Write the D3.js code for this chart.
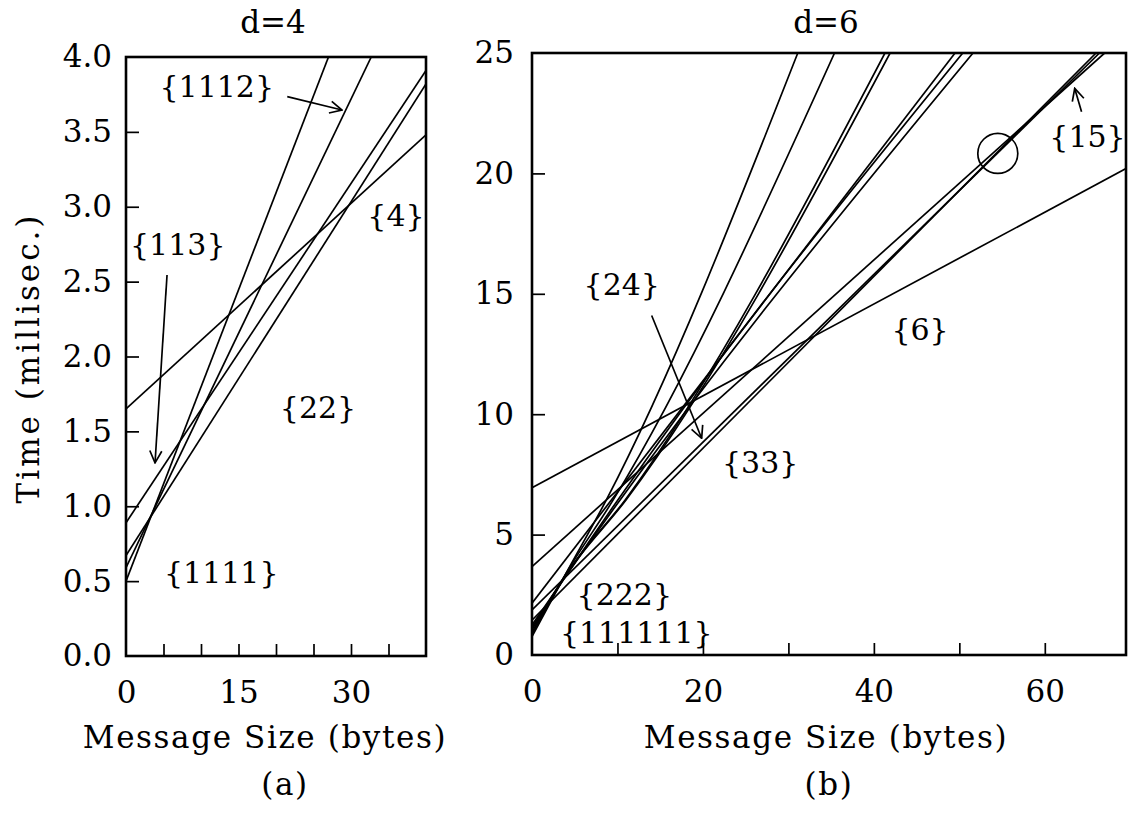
<!DOCTYPE html>
<html>
<head>
<meta charset="UTF-8">
<title>Time vs message size, d=4 and d=6</title>
<script src="https://d3js.org/d3.v7.min.js"></script>
<style>
    body { margin: 0; background: #fff; }
    text { font-family: "DejaVu Serif", serif; fill: #000; }
    .tick line { stroke: #000; stroke-width: 1.7; }
    .tick text { font-size: 31px; }
    .frame { fill: none; stroke: #000; stroke-width: 2.6; }
    .curve { fill: none; stroke: #000; stroke-width: 1.7; }
    .note { font-size: 30px; text-anchor: middle; }
    .title { font-size: 31px; text-anchor: middle; }
    .axis-label { font-size: 31px; text-anchor: middle; letter-spacing: 1.6px; }
    .y-title { font-size: 31px; text-anchor: middle; letter-spacing: 3px; }
    .pointer { stroke: #000; stroke-width: 1.7; fill: none; }
</style>
</head>
<body>
<script>
    // ---- panel (a), d=4 : five straight lines, start time at 0 bytes -> point where it leaves the frame
    const namesA  = ["{1111}", "{1112}", "{22}", "{113}", "{4}"];
    const startA  = [0.50, 0.59, 0.67, 0.89, 1.65];
    const endXA   = [27.0, 32.7, 40, 40, 40];
    const endYA   = [4.0, 4.0, 3.82, 3.91, 3.48];

    const xTicksA  = [5, 10, 15, 20, 25, 30, 35];
    const xLabelsA = [0, 15, 30];
    const yTicksA  = [0.5, 1, 1.5, 2, 2.5, 3, 3.5];
    const yLabelsA = [0, 0.5, 1, 1.5, 2, 2.5, 3, 3.5, 4];

    // ---- panel (b), d=6 : eleven partitions [bytes, ms]
    const namesB = ["{111111}", "{11112}", "{1113}", "{1122}", "{114}", "{123}",
                    "{222}", "{33}", "{24}", "{15}", "{6}"];
    const pointsB = [
        [[0, 0.76], [4, 3.4], [8.7, 6.44], [31.1, 25]],
        [[0, 0.85], [4, 3.4], [9.5, 6.44], [35.4, 25]],
        [[0, 0.95], [4, 3.35], [10.9, 6.44], [41.3, 25]],
        [[0, 1.05], [4, 3.35], [11.0, 6.44], [41.9, 25]],
        [[0, 2.15], [49.5, 25]],
        [[0, 1.15], [4, 3.3], [50.4, 25]],
        [[0, 1.25], [4, 3.3], [51.6, 25]],
        [[0, 1.45], [66.0, 25]],
        [[0, 1.87], [66.4, 25]],
        [[0, 3.67], [67.0, 25]],
        [[0, 6.95], [69.5, 20.2]]
    ];

    const xTicksB  = [10, 20, 30, 40, 50, 60];
    const xLabelsB = [0, 20, 40, 60];
    const yTicksB  = [5, 10, 15, 20];
    const yLabelsB = [0, 5, 10, 15, 20, 25];

    const svg = d3.select("body").append("svg")
        .attr("width", 1128)
        .attr("height", 816);

    const defs = svg.append("defs");
    // open "V" arrow head like the hand-drawn pointers
    defs.append("marker")
        .attr("id", "head")
        .attr("viewBox", "0 0 14 14")
        .attr("refX", 13).attr("refY", 7)
        .attr("markerWidth", 14).attr("markerHeight", 14)
        .attr("markerUnits", "userSpaceOnUse")
        .attr("orient", "auto")
        .append("path")
        .attr("d", "M1,1 L13,7 L1,13")
        .attr("fill", "none")
        .attr("stroke", "#000")
        .attr("stroke-width", 1.7);

    function drawPanel(p) {
        const x = d3.scaleLinear().domain(p.xDomain).range([p.left, p.right]);
        const y = d3.scaleLinear().domain(p.yDomain).range([p.bottom, p.top]);
        const g = svg.append("g");

        defs.append("clipPath").attr("id", p.id + "-clip")
            .append("rect")
            .attr("x", p.left).attr("y", p.top)
            .attr("width", p.right - p.left).attr("height", p.bottom - p.top);

        const line = d3.line()
            .x(d => x(d[0]))
            .y(d => y(d[1]))
            .curve(d3.curveMonotoneX);

        g.append("g")
            .attr("clip-path", `url(#${p.id}-clip)`)
            .selectAll("path")
            .data(p.series)
            .join("path")
            .attr("class", "curve")
            .attr("d", line);

        // inward tick marks (no labels)
        g.append("g")
            .attr("transform", `translate(${p.left},0)`)
            .call(d3.axisLeft(y).tickValues(p.yTicks).tickSize(-13).tickFormat(""))
            .call(a => a.select(".domain").remove());
        g.append("g")
            .attr("transform", `translate(0,${p.bottom})`)
            .call(d3.axisBottom(x).tickValues(p.xTicks).tickSize(-12).tickFormat(""))
            .call(a => a.select(".domain").remove());

        // tick labels
        g.append("g")
            .attr("transform", `translate(${p.left},0)`)
            .call(d3.axisLeft(y).tickValues(p.yLabels).tickSize(0).tickPadding(p.yPad).tickFormat(p.yFormat))
            .call(a => a.select(".domain").remove());
        g.append("g")
            .attr("transform", `translate(0,${p.bottom})`)
            .call(d3.axisBottom(x).tickValues(p.xLabels).tickSize(0).tickPadding(25).tickFormat(d3.format("d")))
            .call(a => a.select(".domain").remove());

        g.append("rect")
            .attr("class", "frame")
            .attr("x", p.left).attr("y", p.top)
            .attr("width", p.right - p.left).attr("height", p.bottom - p.top);

        g.append("text").attr("class", "title").attr("x", p.titleX).attr("y", 33).text(p.title);
        g.append("text").attr("class", "axis-label").attr("x", p.labelX).attr("y", 748).text("Message Size (bytes)");
        g.append("text").attr("class", "axis-label").attr("x", p.tagX).attr("y", 795).text(p.tag);

        // region / line names, placed in data units
        g.selectAll("text.note")
            .data(p.notes)
            .join("text")
            .attr("class", "note")
            .attr("x", d => x(d[1]))
            .attr("y", d => y(d[2]))
            .text(d => d[0]);

        g.selectAll("line.pointer")
            .data(p.pointers)
            .join("line")
            .attr("class", "pointer")
            .attr("x1", d => x(d[0])).attr("y1", d => y(d[1]))
            .attr("x2", d => x(d[2])).attr("y2", d => y(d[3]))
            .attr("marker-end", "url(#head)");

        return {x, y, g};
    }

    // panel (a)
    drawPanel({
        id: "a", title: "d=4", tag: "(a)",
        titleX: 273, labelX: 265, tagX: 285,
        left: 126, right: 426, top: 57, bottom: 656,
        xDomain: [0, 40], yDomain: [0, 4],
        series: startA.map((s, i) => [[0, s], [endXA[i], endYA[i]]]),
        xTicks: xTicksA, xLabels: xLabelsA,
        yTicks: yTicksA, yLabels: yLabelsA,
        yPad: 14, yFormat: d3.format(".1f"),
        notes: [
            ["{1112}", 12.1, 3.73],
            ["{113}", 6.9, 2.68],
            ["{4}", 36.0, 2.87],
            ["{22}", 25.6, 1.59],
            ["{1111}", 12.7, 0.49]
        ],
        pointers: [
            [21.5, 3.735, 28.8, 3.646],
            [5.47, 2.544, 3.87, 1.29]
        ]
    });

    // panel (b)
    const b = drawPanel({
        id: "b", title: "d=6", tag: "(b)",
        titleX: 826, labelX: 826, tagX: 829,
        left: 532, right: 1126, top: 53, bottom: 655,
        xDomain: [0, 69.5], yDomain: [0, 25],
        series: pointsB,
        xTicks: xTicksB, xLabels: xLabelsB,
        yTicks: yTicksB, yLabels: yLabelsB,
        yPad: 18, yFormat: d3.format("d"),
        notes: [
            ["{24}", 10.5, 14.95],
            ["{33}", 26.7, 7.56],
            ["{6}", 45.4, 13.08],
            ["{15}", 65.0, 21.1],
            ["{222}", 10.8, 2.08],
            ["{111111}", 12.2, 0.5]
        ],
        pointers: [
            [14.0, 14.1, 19.85, 9.0],
            [64.3, 22.56, 63.5, 23.53]
        ]
    });

    // circle where {33}, {24} and {15} meet
    b.g.append("circle")
        .attr("cx", b.x(54.5))
        .attr("cy", b.y(20.83))
        .attr("r", 20)
        .attr("fill", "none")
        .attr("stroke", "#000")
        .attr("stroke-width", 1.7);

    // y axis title (left panel only)
    svg.append("text")
        .attr("class", "y-title")
        .attr("transform", "translate(28,358) rotate(-90)")
        .attr("dominant-baseline", "central")
        .text("Time (millisec.)");
</script>
</body>
</html>
